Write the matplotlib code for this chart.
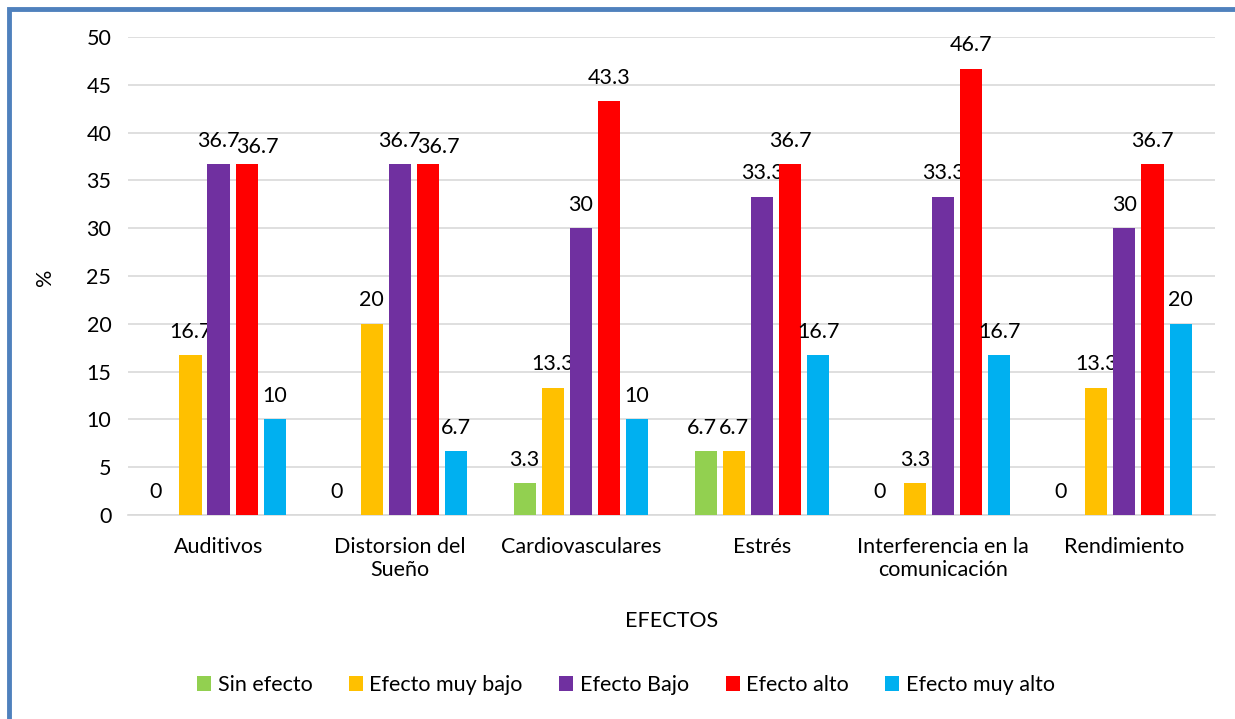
import numpy as np
import matplotlib.pyplot as plt
from matplotlib.patches import Rectangle

plt.rcParams['font.family'] = ['Lato', 'DejaVu Sans']

categories = ['Auditivos', 'Distorsion del\nSueño', 'Cardiovasculares', 'Estrés',
              'Interferencia en la\ncomunicación', 'Rendimiento']
series = ['Sin efecto', 'Efecto muy bajo', 'Efecto Bajo', 'Efecto alto', 'Efecto muy alto']
sin_efecto = [0, 0, 3.3, 6.7, 0, 0]
muy_bajo = [16.7, 20, 13.3, 6.7, 3.3, 13.3]
bajo = [36.7, 36.7, 30, 33.3, 33.3, 30]
alto = [36.7, 36.7, 43.3, 36.7, 46.7, 36.7]
muy_alto = [10, 6.7, 10, 16.7, 16.7, 20]
colors = ['#92D050', '#FFC000', '#7030A0', '#FF0000', '#00B0F0']

fig = plt.figure(figsize=(12.35, 7.19), dpi=100)
ax = fig.add_axes([0.1036, 0.2837, 0.8802, 0.6648])

x = np.arange(len(categories))
slot = 0.155
width = 0.122
all_vals = [sin_efecto, muy_bajo, bajo, alto, muy_alto]
for i, (name, vals) in enumerate(zip(series, all_vals)):
    pos = x + (i - 2) * slot
    ax.bar(pos, vals, width, color=colors[i], label=name, zorder=3)
    for j, (xp, v) in enumerate(zip(pos, vals)):
        dx, dy = 0, 1.4
        if v == 0:
            dx = -0.04
        # Excel nudges a label that would collide with its neighbour
        if i == 3 and v == bajo[j]:
            dx, dy = 0.06, 0.7
        if i == 0 and v > 0 and v == muy_bajo[j]:
            dx = -0.02
        ax.text(xp + dx, v + dy, '%g' % v, ha='center', va='bottom',
                fontsize=15.5, color='#000000')

ax.set_xlim(-0.5, len(categories) - 0.5)
ax.set_ylim(0, 50)
ax.set_yticks(np.arange(0, 51, 5))
ax.set_xticks(x)
ax.set_xticklabels(categories, fontsize=15.5, linespacing=1.15)
ax.tick_params(axis='y', labelsize=15.5, length=0, pad=12)
ax.tick_params(axis='x', length=0, pad=16)
ax.yaxis.grid(True, color='#D9D9D9', linewidth=1.2, zorder=0)
for s in ['top', 'right', 'left']:
    ax.spines[s].set_visible(False)
ax.spines['bottom'].set_color('#D9D9D9')
ax.spines['bottom'].set_linewidth(1.2)

fig.text(45 / 1235, 1 - 277 / 719, '%', rotation=90, ha='center', va='center', fontsize=15.5)
fig.text(672 / 1235, 1 - 621 / 719, 'EFECTOS', ha='center', va='center', fontsize=15.5)

fig.legend(loc='center', bbox_to_anchor=(626 / 1235, 1 - 685 / 719), ncol=5, frameon=False,
           fontsize=15.5, handlelength=0.65, handleheight=0.65, handletextpad=0.3,
           columnspacing=1.7)

# blue chart frame (left and top visible)
fig.patches.append(Rectangle((8.5 / 1235, -0.1), 1.2, (1 - 9.5 / 719) + 0.1,
                             transform=fig.transFigure, fill=False,
                             edgecolor='#4F81BD', linewidth=3.5))

fig.savefig('out.png', dpi=100)
